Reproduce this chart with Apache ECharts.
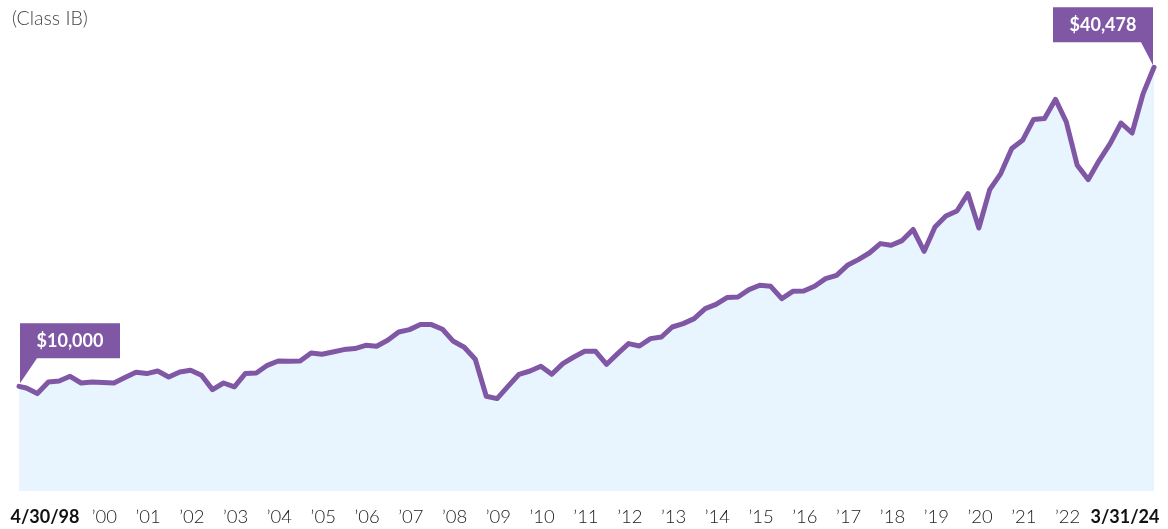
<!DOCTYPE html>
<html>
<head>
<meta charset="utf-8">
<script src="https://cdn.jsdelivr.net/npm/echarts@6/dist/echarts.min.js"></script>
<style>
html,body{margin:0;padding:0;background:#fff;}
#chart{width:1168px;height:529px;}
</style>
</head>
<body>
<div id="chart"></div>
<script>
// ---- DATA ----
const startDate = '1998-04-30';
const endDate = '2024-03-31';
// Growth of $10,000 (quarter-end values after the start date)
const values = [
  10000, 9841, 9306, 10414,
  10509, 10958, 10318, 10414,
  10357, 10318, 10834, 11341,
  11216, 11465, 10892, 11369,
  11532, 11054, 9688, 10318,
  9955, 11216, 11274, 12009,
  12420, 12391, 12420, 13185,
  13060, 13280, 13509, 13605,
  13920, 13825, 14398, 15191,
  15420, 15898, 15898, 15449,
  14302, 13729, 12582, 9048,
  8828, 10003, 11149, 11465,
  11914, 11149, 12172, 12802,
  13347, 13347, 12105, 13127,
  14083, 13853, 14560, 14713,
  15669, 15993, 16471, 17427,
  17837, 18477, 18535, 19242,
  19653, 19557, 18382, 19079,
  19108, 19557, 20293, 20608,
  21564, 22108, 22739, 23637,
  23474, 23923, 24984, 22901,
  25223, 26274, 26751, 28414,
  25127, 28796, 30324, 32713,
  33506, 35484, 35579, 37423,
  35254, 31118, 29751, 31595,
  33191, 35159, 34203, 37967,
  40478
];
const yearTicks = [2000,2001,2002,2003,2004,2005,2006,2007,2008,2009,2010,2011,2012,2013,2014,2015,2016,2017,2018,2019,2020,2021,2022];
const yearLabels = ['\u201900','\u201901','\u201902','\u201903','\u201904','\u201905','\u201906','\u201907','\u201908','\u201909','\u201910','\u201911','\u201912','\u201913','\u201914','\u201915','\u201916','\u201917','\u201918','\u201919','\u201920','\u201921','\u201922'];
const startLabel = '4/30/98';
const endLabel = '3/31/24';
const subtitle = '(Class IB)';

// ---- helpers ----
function decYear(s){
  const p = s.split('-').map(Number);
  const t = Date.UTC(p[0], p[1]-1, p[2]);
  const a = Date.UTC(p[0],0,1), b = Date.UTC(p[0]+1,0,1);
  return p[0] + (t-a)/(b-a);
}
// quarter-end dates between start and end
const dates = [startDate];
(function(){
  const qe = [['03','31'],['06','30'],['09','30'],['12','31']];
  for (let y = 1998; y <= 2024; y++) {
    for (const q of qe) {
      const d = y + '-' + q[0] + '-' + q[1];
      if (d > startDate && d <= endDate) dates.push(d);
    }
  }
})();
const xs = dates.map(decYear);
const seriesData = values.map((v,i)=>[xs[i], v]);
const xFirst = xs[0], xLast = xs[xs.length-1];

const PURPLE = '#7f57a5';
const FONT = 'Lato, "Noto Sans", "Open Sans", sans-serif';

const chart = echarts.init(document.getElementById('chart'), null, {renderer:'canvas'});
chart.setOption({
  animation: false,
  backgroundColor: '#ffffff',
  title: {
    text: subtitle,
    left: 7, top: 4,
    textStyle: {fontFamily: FONT, fontSize: 19.5, fontWeight: 300, color: '#444'}
  },
  grid: {left: 19, right: 14, top: 20, bottom: 38},
  xAxis: {
    type: 'value',
    min: xFirst, max: xLast,
    axisLine: {show: false},
    axisTick: {show: false},
    splitLine: {show: false},
    axisLabel: {
      customValues: [xFirst].concat(yearTicks, [xLast]),
      showMinLabel: true, showMaxLabel: true,
      margin: 17,
      align: 'center',
      formatter: function(v){
        if (Math.abs(v - xFirst) < 1e-6) return '{b|' + startLabel + '}';
        if (Math.abs(v - xLast) < 1e-6) return '{e|' + endLabel + '}';
        const i = yearTicks.indexOf(Math.round(v));
        return '{y|' + yearLabels[i] + '}';
      },
      rich: {
        y: {fontFamily: FONT, fontSize: 18.5, fontWeight: 300, color: '#222', padding: [0,0,0,24]},
        b: {fontFamily: FONT, fontSize: 18, fontWeight: 'bold', color: '#111', padding: [0,0,0,52]},
        e: {fontFamily: FONT, fontSize: 18, fontWeight: 'bold', color: '#111', padding: [0,58,0,0]}
      }
    }
  },
  yAxis: {
    type: 'value', min: 0, max: 45000, show: false,
    splitLine: {show: false}
  },
  series: [{
    type: 'line',
    data: seriesData,
    symbol: 'none',
    lineStyle: {color: PURPLE, width: 5, join: 'round', cap: 'round'},
    areaStyle: {color: '#e8f4fe', opacity: 1},
    z: 3,
    markPoint: {
      silent: true,
      data: [
        {
          coord: [xFirst, values[0]],
          value: values[0],
          symbol: 'path://M0 0 H100 V35 H17 L0 60 Z',
          symbolSize: [100, 60],
          symbolOffset: [51, -33],
          itemStyle: {color: PURPLE},
          label: {show: true, position: 'inside', offset: [0, -12.5]}
        },
        {
          coord: [xLast, values[values.length-1]],
          value: values[values.length-1],
          symbol: 'path://M0 0 H100 V58 L88 35 H0 Z',
          symbolSize: [100, 58],
          symbolOffset: [-51, -31],
          itemStyle: {color: PURPLE},
          label: {show: true, position: 'inside', offset: [0, -11.5]}
        }
      ],
      label: {
        color: '#fff', fontFamily: FONT, fontSize: 18, fontWeight: 'bold',
        formatter: function(p){ return '$' + Number(p.value).toLocaleString('en-US'); }
      }
    }
  }]
});
</script>
</body>
</html>
